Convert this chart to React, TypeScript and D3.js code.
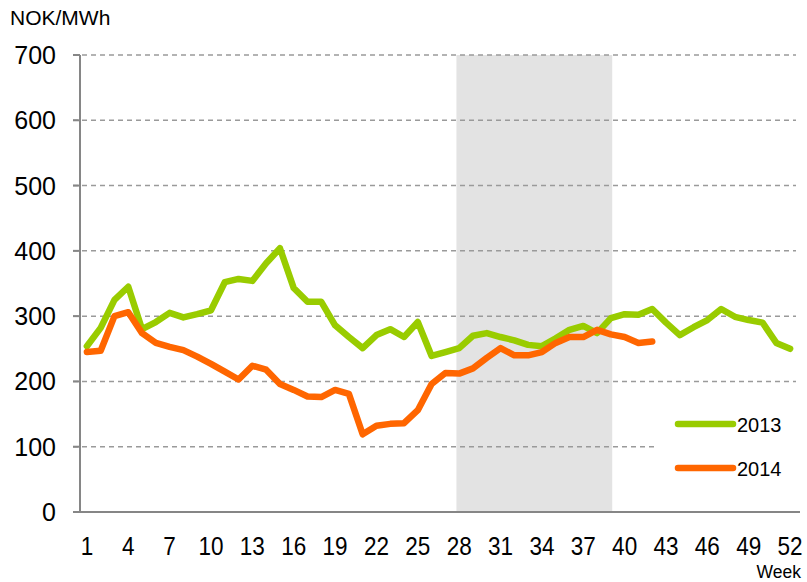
import React from 'react';
import * as d3 from 'd3';

// weekly prices, NOK/MWh
const weeks2013 = d3.range(1, 53);
const price2013 = [
  254, 282, 325, 345, 280, 291, 305, 298, 303, 309,
  352, 357, 354, 381, 404, 343, 322, 322, 286, 268,
  251, 271, 280, 268, 291, 239, 245, 251, 270, 274,
  268, 263, 256, 254, 266, 279, 285, 274, 297, 303,
  302, 311, 290, 271, 283, 294, 311, 299, 294, 290,
  259, 250,
];
const weeks2014 = d3.range(1, 43);
const price2014 = [
  245, 247, 300, 306, 274, 259, 253, 248, 238, 227,
  215, 203, 224, 218, 196, 187, 177, 176, 187, 181,
  119, 132, 135, 136, 156, 196, 213, 212, 220, 236,
  251, 240, 240, 245, 259, 268, 268, 279, 272, 268,
  259, 261,
];
const yTicks = [0, 100, 200, 300, 400, 500, 600, 700];
const xTickWeeks = d3.range(1, 53, 3);
const shadedWeeks = [27.8, 39.1];

const series = [
  { name: '2013', weeks: weeks2013, values: price2013, color: '#99cc00' },
  { name: '2014', weeks: weeks2014, values: price2014, color: '#ff6600' },
];

const FONT = 'Liberation Sans, Arial, sans-serif';

export default function App() {
  const width = 807, height = 582;
  const x = d3.scaleLinear().domain([0.5, 52.5]).range([80, 797]);
  const y = d3.scaleLinear().domain([0, 700]).range([512, 55]);

  const line = d3.line<[number, number]>()
    .x((d) => x(d[0]))
    .y((d) => y(d[1]));

  return (
    <svg width={width} height={height} style={{ position: 'absolute', left: 0, top: 0, background: '#fff' }}
      fontFamily={FONT}>
      <rect x={x(shadedWeeks[0])} y={y(700)} width={x(shadedWeeks[1]) - x(shadedWeeks[0])}
        height={y(0) - y(700)} fill="#e3e3e3" />

      {yTicks.filter((t) => t > 0).map((t) => (
        <line key={t} x1={73} x2={796} y1={y(t)} y2={y(t)}
          stroke="#9a9a9a" strokeWidth={1.5} strokeDasharray="5,4" />
      ))}

      {/* legend box hides the grid behind it */}
      <rect x={655} y={400} width={152} height={95} fill="#fff" />

      {series.map((s) => (
        <path key={s.name} d={line(s.weeks.map((w, i) => [w, s.values[i]]) as [number, number][]) || ''}
          fill="none" stroke={s.color} strokeWidth={6.5} strokeLinejoin="round" strokeLinecap="round" />
      ))}

      {/* axes */}
      <line x1={80} x2={80} y1={y(700)} y2={y(0)} stroke="#868686" strokeWidth={2} />
      <line x1={73} x2={800} y1={y(0)} y2={y(0)} stroke="#868686" strokeWidth={2} />
      {yTicks.map((t) => (
        <g key={t}>
          <line x1={73} x2={80} y1={y(t)} y2={y(t)} stroke="#868686" strokeWidth={2} />
          <text x={56} y={y(t) + 9} textAnchor="end" fontSize={25} fill="#000">{t}</text>
        </g>
      ))}

      {xTickWeeks.map((w) => (
        <text key={w} transform={`translate(${x(w)},555) scale(0.85,1)`} textAnchor="middle"
          fontSize={26.5} fill="#000">{w}</text>
      ))}

      <text x={10} y={25} fontSize={21} fill="#000">NOK/MWh</text>
      <text x={801} y={578} textAnchor="end" fontSize={17.5} fill="#000">Week</text>

      {series.map((s, i) => (
        <g key={s.name} transform={`translate(0,${424 + i * 44})`}>
          <line x1={678} x2={733} y1={0} y2={0} stroke={s.color} strokeWidth={6.5} strokeLinecap="round" />
          <text x={737} y={8} fontSize={20} fill="#000">{s.name}</text>
        </g>
      ))}
    </svg>
  );
}
